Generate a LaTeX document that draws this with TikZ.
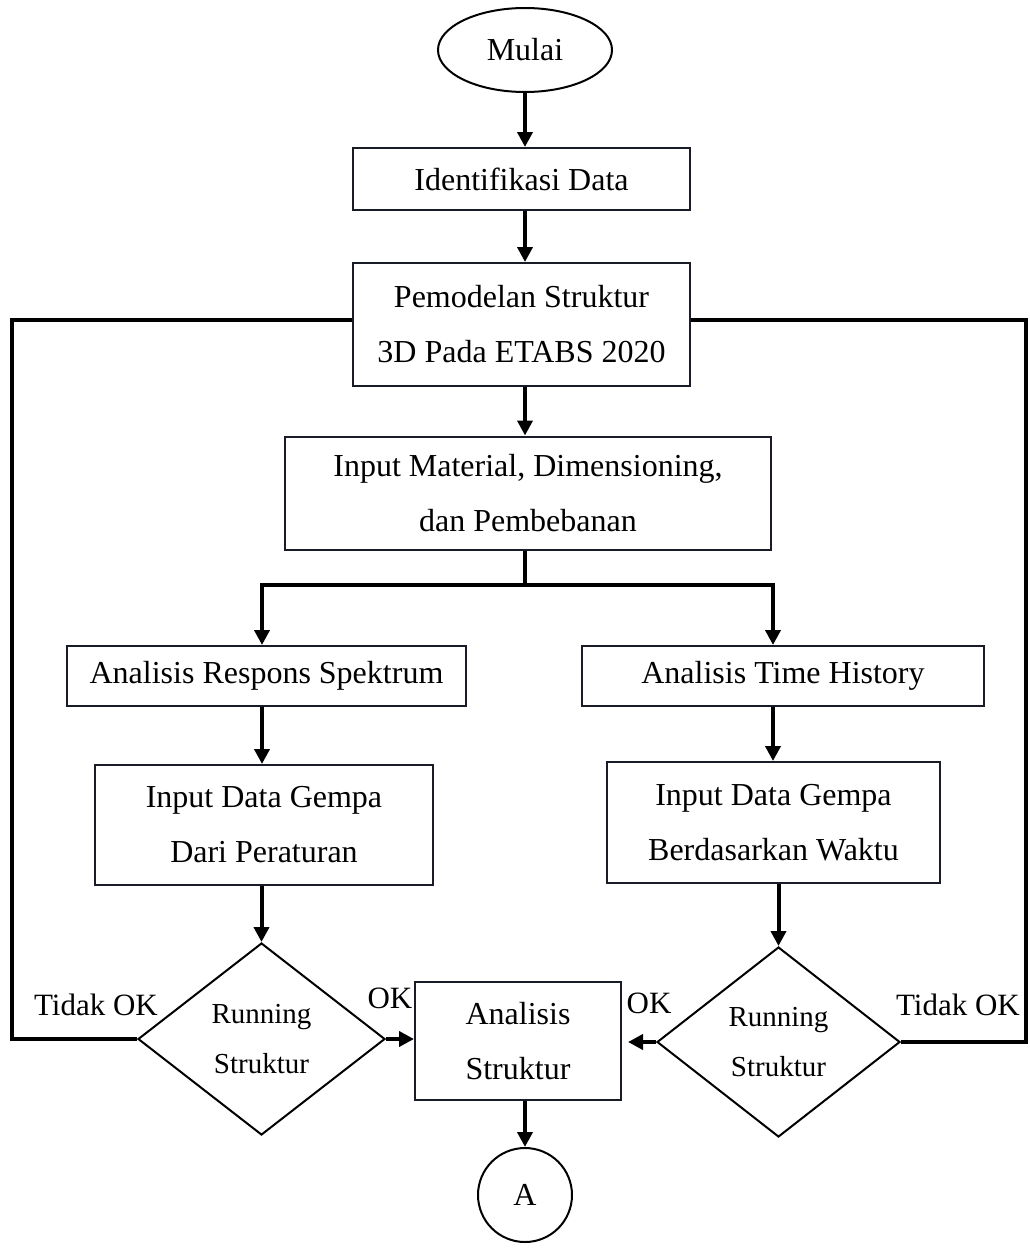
\documentclass[tikz,border=0pt]{standalone}
\usepackage{fontspec}
\setmainfont{Liberation Serif}
\usetikzlibrary{shapes.geometric,arrows.meta}
\definecolor{edge}{RGB}{25,28,38}
\begin{document}
\begin{tikzpicture}[x=1pt,y=-1pt,
  txt/.style={font=\fontsize{32}{55}\selectfont, align=center, inner sep=0pt},
  box/.style={txt, draw=edge, line width=2pt, rectangle},
  dia/.style={diamond, draw=black, line width=2pt, inner sep=0pt, align=center,
     font=\fontsize{29}{50}\selectfont},
  conn/.style={line width=4pt, black},
  arr/.style={conn, -{Triangle[length=15pt,width=15pt]}},
  lbl/.style={font=\fontsize{31}{36}\selectfont, inner sep=0pt}]
\useasboundingbox (0,0) rectangle (1029,1258);
\node[txt, ellipse, draw=black, line width=2pt, minimum width=174pt, minimum height=84pt] (mulai) at (525,50) {Mulai};
\node[box, minimum width=337pt, minimum height=62pt] (ident) at (521.5,179) {Identifikasi Data};
\node[box, minimum width=337pt, minimum height=123pt] (model) at (521.5,324.5) {Pemodelan Struktur\\3D Pada ETABS 2020};
\node[box, minimum width=486pt, minimum height=113pt] (input) at (528,493) {Input Material, Dimensioning,\\dan Pembebanan};
\node[box, minimum width=399pt, minimum height=60pt] (ars) at (266.5,676) {Analisis Respons Spektrum};
\node[box, minimum width=402pt, minimum height=60pt] (ath) at (783,676) {Analisis Time History};
\node[box, minimum width=338pt, minimum height=120pt] (igl) at (264,825) {Input Data Gempa\\Dari Peraturan};
\node[box, minimum width=333pt, minimum height=121pt] (igr) at (773.5,822.5) {Input Data Gempa\\Berdasarkan Waktu};
\node[dia, minimum width=247pt, minimum height=192pt] (dl) at (261.5,1039) {Running\\Struktur};
\node[dia, minimum width=243pt, minimum height=190pt] (dr) at (778.5,1042) {Running\\Struktur};
\node[box, minimum width=206pt, minimum height=118pt] (as) at (518,1041) {Analisis\\Struktur};
\node[txt, circle, draw=black, line width=2pt, minimum size=94pt] (A) at (525,1195) {A};

\coordinate (c1) at (525,0);
\draw[arr] (mulai.south) -- (c1 |- ident.north);
\draw[arr] (c1 |- ident.south) -- (c1 |- model.north);
\draw[arr] (c1 |- model.south) -- (c1 |- input.north);
\coordinate (split) at (525,585);
\coordinate (sl) at (262,585);
\coordinate (sr) at (773,585);
\draw[conn] (split |- input.south) -- (split);
\draw[conn] ([xshift=-2pt]sl) -- ([xshift=2pt]sr);
\draw[arr] (sl) -- (sl |- ars.north);
\draw[arr] (sr) -- (sr |- ath.north);
\draw[arr] (sl |- ars.south) -- (sl |- igl.north);
\draw[arr] (sr |- ath.south) -- (sr |- igr.north);
\draw[arr] (dl.north |- igl.south) -- (dl.north);
\draw[arr] (dr.north |- igr.south) -- (dr.north);
\draw[arr] (dl.east) -- (as.west |- dl.east);
\draw[arr] (dr.west) -- ([xshift=6pt]as.east |- dr.west);
\draw[arr] (c1 |- as.south) -- (A.north);

\coordinate (fl) at (12,320);
\coordinate (fr) at (1026,320);
\draw[conn] (dl.west) -| (fl) -- (fl -| model.west);
\draw[conn] (dr.east) -| (fr) -- (fr -| model.east);

\node[lbl] (tl) at (96,1005) {Tidak OK};
\node[lbl] (okl) at (390,998) {OK};
\node[lbl] (okr) at (649,1003) {OK};
\node[lbl] (tr) at (958,1005) {Tidak OK};
\end{tikzpicture}
\end{document}
